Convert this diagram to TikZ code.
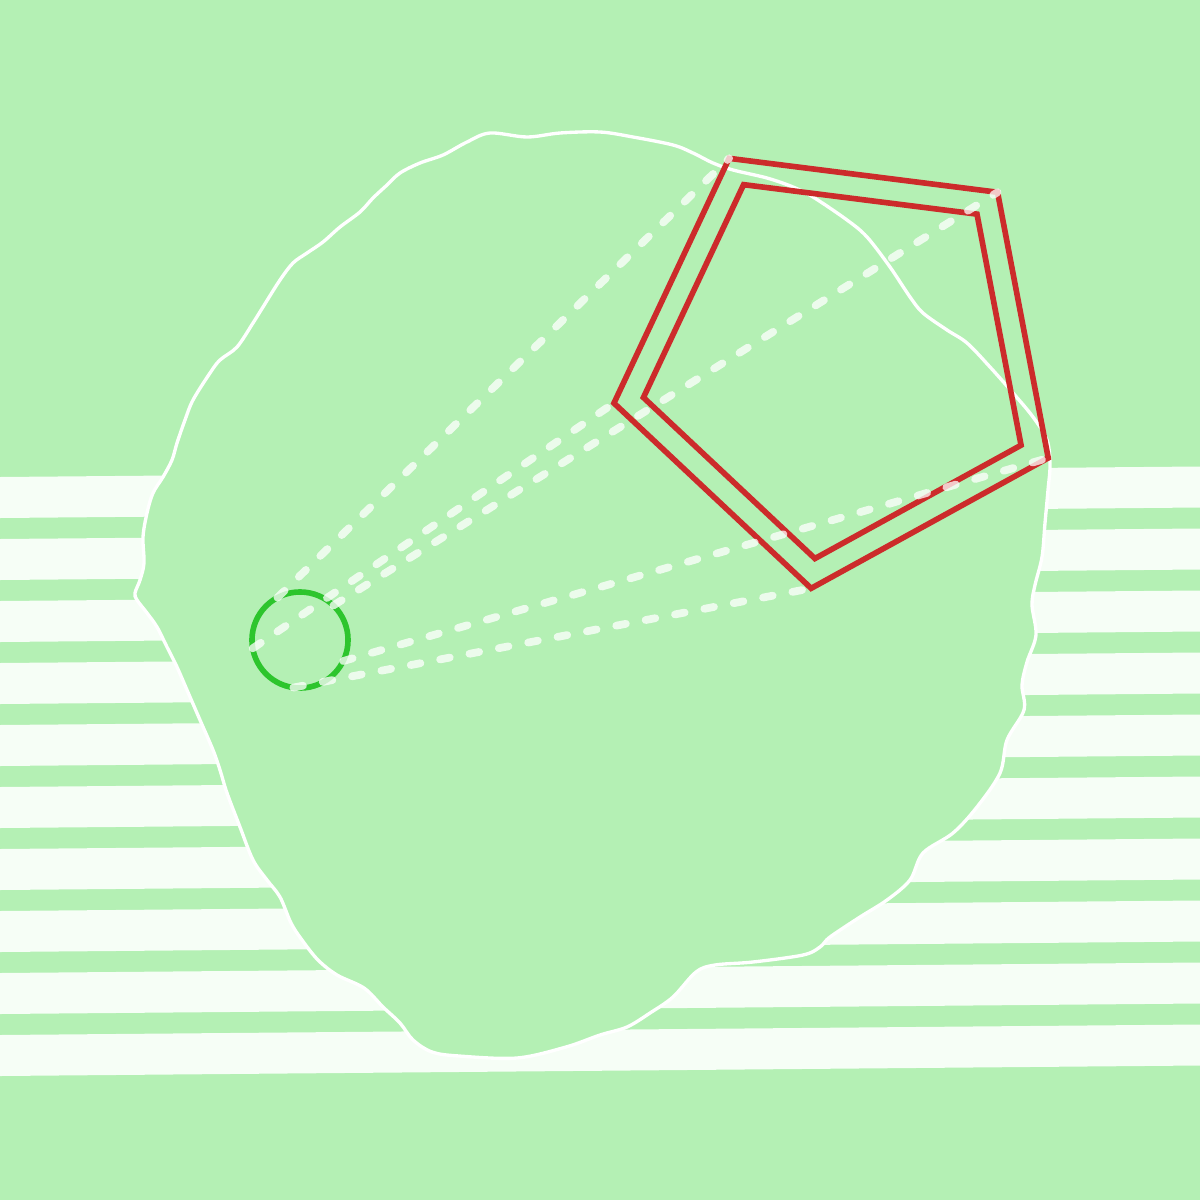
\documentclass[tikz,border=0pt]{standalone}
\usetikzlibrary{shapes.geometric}
\definecolor{meadow}{HTML}{B4F0B4}
\definecolor{mist}{HTML}{F6FEF6}
\definecolor{leaf}{HTML}{2DC52D}
\definecolor{brick}{HTML}{CC2B2B}

\begin{document}
\begin{tikzpicture}[
  x=0.01cm,y=-0.01cm,
  band/.style={fill=mist},
  blob/.style={fill=meadow,draw=white,line width=0.95pt},
  ring/.style={circle,draw=leaf,line width=1.6pt,minimum size=0.96cm,
               inner sep=0pt,outer sep=0pt},
  penta/.style={regular polygon,regular polygon sides=5,shape border rotate=28.8,
                draw=brick,line width=1.6pt,inner sep=0pt,outer sep=0pt},
  ray/.style={draw=white,draw opacity=0.75,line width=2.2pt,line cap=round,
              dash pattern=on 2.8pt off 5.7pt}
]
  \fill[meadow] (0,0) rectangle (1200,1200);
  \useasboundingbox (0,0) rectangle (1200,1200);

  % stripes behind the blob
  \foreach \i in {0,...,9}
    \fill[band] (0,{477+62*\i}) -- (1200,{466.5+62*\i})
                -- (1200,{507.5+62*\i}) -- (0,{518+62*\i}) -- cycle;

  % wavy blob
  \draw[blob] plot[smooth cycle,tension=0.55] coordinates {
    (490,133) (527,137) (560,133) (600,132) (633,137) (673,145) (693,153)
    (713,163) (733,170) (767,178) (793,187) (813,197) (847,220) (867,237)
    (890,267) (910,297) (923,313) (947,330) (967,343) (990,367) (1013,393)
    (1033,417) (1047,440) (1050,465) (1048,490) (1045,523) (1042,557)
    (1035,585) (1032,605) (1036,635) (1027,662) (1022,685) (1024,710)
    (1007,740) (1000,773) (977,807) (953,833) (923,853) (910,880) (887,900)
    (860,917) (830,937) (820,947) (803,955) (753,962) (715,965) (696,972)
    (673,997) (650,1013) (627,1027) (600,1035) (566,1047) (517,1058)
    (459,1056) (432,1052) (413,1040) (400,1023) (383,1007) (364,988)
    (337,975) (318,960) (302,940) (291,923) (280,897) (267,880) (253,860)
    (240,827) (227,793) (220,770) (213,750) (200,720) (187,690) (177,667)
    (167,647) (157,627) (147,613) (137,600) (135,593) (140,580) (144,563)
    (143,537) (147,513) (153,493) (163,477) (172,460) (177,443) (185,420)
    (193,400) (210,373) (220,360) (237,347) (253,323) (263,307) (280,280)
    (293,263) (307,253) (323,242) (340,227) (360,212) (373,198) (387,185)
    (400,173) (420,163) (443,155) (467,142)};

  \node[penta,minimum size=4.6cm] (outer) at (840,360) {};
  \node[penta,minimum size=4cm] (inner) at (840,360) {};
  \node[ring] (spot) at (300,640) {};

  % rays from the ring to the outer corners
  \foreach \k/\a in {1/118.8,2/190.8,3/262.8,4/334.8,5/46.8}
    \draw[ray] (spot.\a) -- (outer.corner \k);
\end{tikzpicture}
\end{document}
